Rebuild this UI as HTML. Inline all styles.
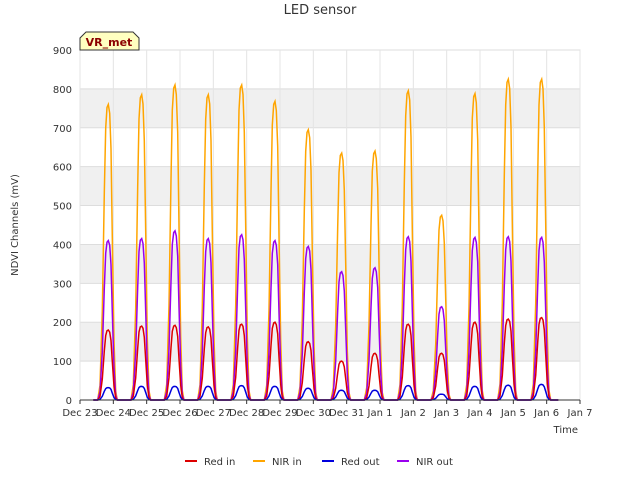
<!DOCTYPE html>
<html><head><meta charset="utf-8"><style>
body{margin:0;background:#fff;font-family:"Liberation Sans","DejaVu Sans",sans-serif}
svg text{font-family:"DejaVu Sans","Liberation Sans",sans-serif}
</style></head><body>
<svg id="c" width="640" height="480" xmlns="http://www.w3.org/2000/svg">
<text x="320" y="14" text-anchor="middle" font-size="13" fill="#333">LED sensor</text>
<g id="bands"></g><g id="grid"></g><g id="series"></g><g id="axes"></g>
<text transform="translate(18,225) rotate(-90)" text-anchor="middle" font-size="10" fill="#333">NDVI Channels (mV)</text>
<text x="578" y="433" text-anchor="end" font-size="10" fill="#333">Time</text>
<g>
<path d="M80,50 L80,38 L86,32 L133,32 L139,38 L139,50 Z" fill="#ffffc0" stroke="#333" stroke-width="1"/>
<text x="109" y="46" text-anchor="middle" font-size="11" font-weight="bold" fill="#8b0000">VR_met</text></g>
<g id="legend"></g>
</svg>
<script>
const days=[0,1,2,3,4,5,6,7,8,9,10,11,12,13];
const xTicks=["Dec 23","Dec 24","Dec 25","Dec 26","Dec 27","Dec 28","Dec 29","Dec 30","Dec 31","Jan 1","Jan 2","Jan 3","Jan 4","Jan 5","Jan 6","Jan 7"];
const yTicks=[0,100,200,300,400,500,600,700,800,900];
const nirIn=[760,785,810,785,810,768,695,635,640,795,475,788,825,825];
const nirOut=[410,415,435,415,425,410,395,330,340,420,240,418,420,418];
const redIn=[180,190,192,188,195,200,150,100,120,195,120,200,208,212];
const redOut=[32,35,35,35,37,35,30,25,25,37,15,35,38,40];
const profT=[-0.32,-0.25,-0.18,-0.12,-0.08,-0.04,0,0.04,0.08,0.12,0.17,0.22,0.27];
const profV=[0,0.05,0.3,0.7,0.92,0.99,1,0.97,0.85,0.55,0.2,0.03,0];
const X0=80,X1=580,Y0=400,Y1=50;
const sx=d=>X0+d*(X1-X0)/15, sy=v=>Y0-v*(Y0-Y1)/900;
const NS="http://www.w3.org/2000/svg";
function mk(p,t,a){const e=document.createElementNS(NS,t);for(const k in a)e.setAttribute(k,a[k]);p.appendChild(e);return e;}
const bands=document.getElementById('bands'),grid=document.getElementById('grid'),axes=document.getElementById('axes');
for(let i=0;i<yTicks.length-1;i++){
 const r=mk(bands,'rect',{x:X0,y:sy(yTicks[i+1]),width:X1-X0,height:sy(yTicks[i])-sy(yTicks[i+1]),fill:i%2==1?'#f0f0f0':'#fff'});
 
 
}
mk(bands,'rect',{x:X0,y:Y1,width:X1-X0,height:Y0-Y1,fill:'none',stroke:'#ddd'});
yTicks.forEach(v=>{
 mk(grid,'line',{x1:X0,x2:X1,y1:sy(v),y2:sy(v),stroke:'#ddd'});
 const t=mk(axes,'text',{x:X0-8,y:sy(v)+4,'text-anchor':'end','font-size':10,fill:'#333'});t.textContent=v;
 
 
});
xTicks.forEach((s,i)=>{
 mk(grid,'line',{x1:sx(i),x2:sx(i),y1:Y1,y2:Y0,stroke:'#e4e4e4'});
 mk(axes,'line',{x1:sx(i),x2:sx(i),y1:Y0,y2:Y0+4,stroke:'#333'});
 const t=mk(axes,'text',{x:sx(i),y:Y0+16,'text-anchor':'middle','font-size':10,fill:'#333'});t.textContent=s;
 
 
});
mk(axes,'line',{x1:X0,x2:X1,y1:Y0,y2:Y0,stroke:'#333'});
const series=[["Red in",redIn,"#dd0000"],["NIR in",nirIn,"#ffa500"],["Red out",redOut,"#0000dd"],["NIR out",nirOut,"#9900ee"]];
const sg=document.getElementById('series');
const order=[1,3,0,2];
order.forEach(si=>{
 const [name,vals,col]=series[si];
 let pts=[[sx(0.4),sy(0)]];
 days.forEach((d,i)=>{profT.forEach((t,j)=>pts.push([sx(d+0.85+t),sy(vals[i]*profV[j])]));});
 pts.push([sx(14.35),sy(0)]);
 const p=mk(sg,'polyline',{points:pts.map(q=>q[0].toFixed(1)+','+q[1].toFixed(1)).join(' '),fill:'none',stroke:col,'stroke-width':1.5});
 
 
});
const lg=document.getElementById('legend');
const lx=[185,253,322,397];
series.forEach((s,i)=>{
 const g=mk(lg,'g',{});
 
 
 mk(g,'line',{x1:lx[i],x2:lx[i]+12,y1:461,y2:461,stroke:s[2],'stroke-width':2});
 const t=mk(g,'text',{x:lx[i]+19,y:465,'font-size':10,fill:'#333'});t.textContent=s[0];
});
</script>
</body></html>
